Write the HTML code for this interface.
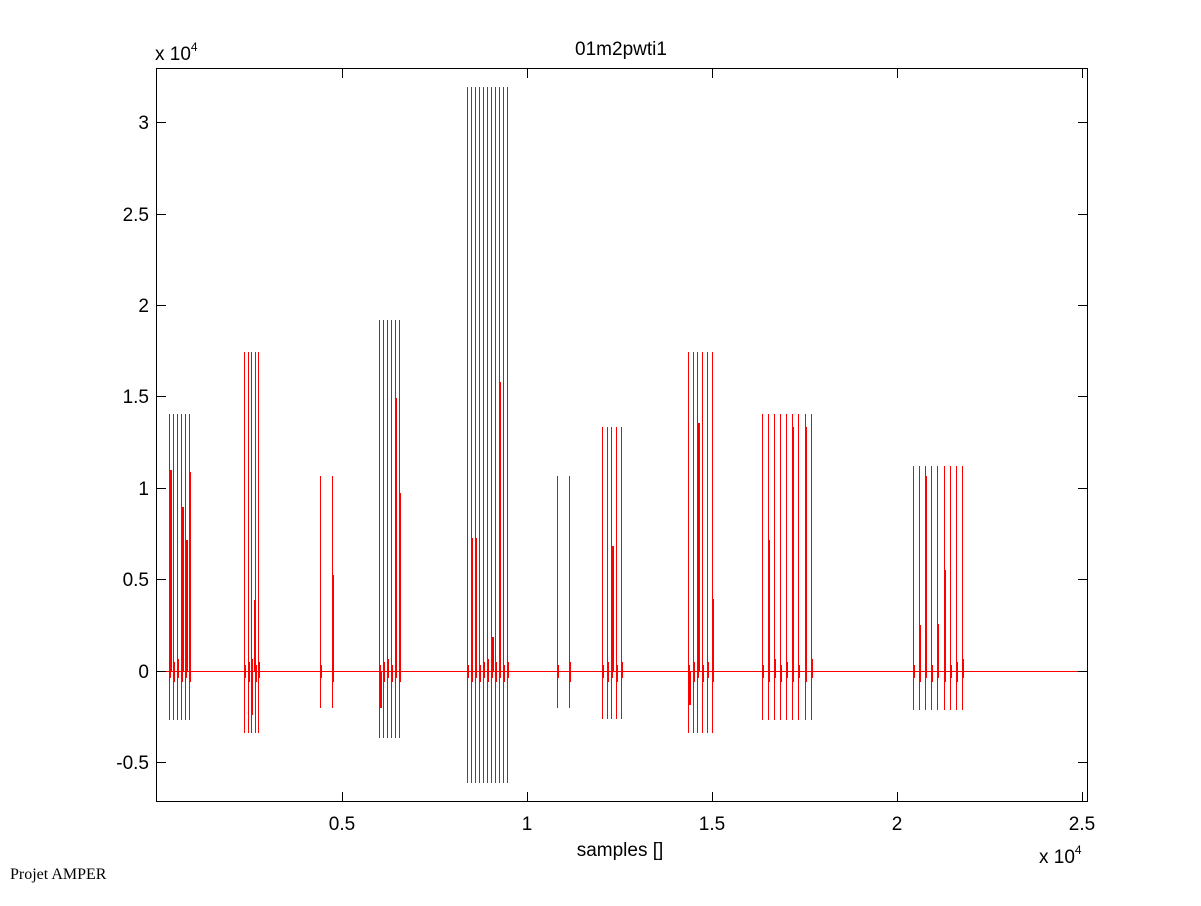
<!DOCTYPE html>
<html><head><meta charset="utf-8"><style>
body{margin:0;background:#fff}
svg text{font-family:"Liberation Sans",Arial,sans-serif;fill:#000}
</style></head><body>
<svg id="s" width="1201" height="901" xmlns="http://www.w3.org/2000/svg">
<rect width="1201" height="901" fill="#fff"/>
<g id="d" fill="#ff0000"></g>
<rect x="156.5" y="68.5" width="931" height="733" fill="none" stroke="#000" stroke-width="1"/>
<g stroke="#000" stroke-width="1">
<line x1="156.5" y1="122.5" x2="166" y2="122.5"/><line x1="1087.5" y1="122.5" x2="1078" y2="122.5"/>
<line x1="156.5" y1="214.5" x2="166" y2="214.5"/><line x1="1087.5" y1="214.5" x2="1078" y2="214.5"/>
<line x1="156.5" y1="305.5" x2="166" y2="305.5"/><line x1="1087.5" y1="305.5" x2="1078" y2="305.5"/>
<line x1="156.5" y1="396.5" x2="166" y2="396.5"/><line x1="1087.5" y1="396.5" x2="1078" y2="396.5"/>
<line x1="156.5" y1="488.5" x2="166" y2="488.5"/><line x1="1087.5" y1="488.5" x2="1078" y2="488.5"/>
<line x1="156.5" y1="579.5" x2="166" y2="579.5"/><line x1="1087.5" y1="579.5" x2="1078" y2="579.5"/>
<line x1="156.5" y1="671.5" x2="166" y2="671.5"/><line x1="1087.5" y1="671.5" x2="1078" y2="671.5"/>
<line x1="156.5" y1="762.5" x2="166" y2="762.5"/><line x1="1087.5" y1="762.5" x2="1078" y2="762.5"/>
<line x1="342.5" y1="801.5" x2="342.5" y2="792"/><line x1="342.5" y1="68.5" x2="342.5" y2="78"/>
<line x1="527.5" y1="801.5" x2="527.5" y2="792"/><line x1="527.5" y1="68.5" x2="527.5" y2="78"/>
<line x1="712.5" y1="801.5" x2="712.5" y2="792"/><line x1="712.5" y1="68.5" x2="712.5" y2="78"/>
<line x1="897.5" y1="801.5" x2="897.5" y2="792"/><line x1="897.5" y1="68.5" x2="897.5" y2="78"/>
<line x1="1082.5" y1="801.5" x2="1082.5" y2="792"/><line x1="1082.5" y1="68.5" x2="1082.5" y2="78"/>
</g>
<g font-size="19" text-anchor="end">
<text x="149" y="129">3</text><text x="149" y="221">2.5</text><text x="149" y="312">2</text>
<text x="149" y="403">1.5</text><text x="149" y="495">1</text><text x="149" y="586">0.5</text>
<text x="149" y="678">0</text><text x="149" y="769">-0.5</text>
</g>
<g font-size="19" text-anchor="middle">
<text x="342" y="830">0.5</text><text x="527" y="830">1</text><text x="712" y="830">1.5</text>
<text x="897" y="830">2</text><text x="1082" y="830">2.5</text>
<text x="620" y="856">samples []</text>
<text x="621" y="55">01m2pwti1</text>
</g>
<text x="155" y="60" font-size="19">x 10<tspan font-size="12" dy="-9">4</tspan></text>
<text x="1039" y="863" font-size="19">x 10<tspan font-size="12" dy="-9">4</tspan></text>
<text x="10" y="879" font-size="16" style="font-family:'Liberation Serif',serif">Projet AMPER</text>
</svg>
<script>
var g=document.getElementById('d'),NS='http://www.w3.org/2000/svg';
function R(x,y,w,h){var r=document.createElementNS(NS,'rect');
r.setAttribute('x',x);r.setAttribute('y',y);r.setAttribute('width',w);r.setAttribute('height',h);r.setAttribute('fill','#ff0000');g.appendChild(r);}
function L(x,a,b){R(x,a,1,b-a);}
var B=[
[[169,173,177,181,185,189],414,720,[[170,470],[182,507],[186,540],[189,472]]],
[[244,248,251,255,258],352,733,[[254,600],[251,715]]],
[[320,332],476,708,[[332,575]]],
[[379,383,387,391,395,399],320,738,[[395,398],[399,493],[380,708]]],
[[467,471,475,479,483,487,491,495,499,503,507],87,783,[[471,538],[475,538],[499,382],[492,637]]],
[[557,569],476,708,[]],
[[602,607,611,616,621],427,719,[[612,546]]],
[[688,693,697,702,707,712],352,733,[[698,423],[712,599],[689,705]]],
[[762,768,774,780,786,792,798,805,811],414,720,[[768,540],[792,427],[805,427]]],
[[913,919,925,931,937,944,950,956,962],466,710,[[925,476],[944,570],[937,624],[919,625]]]
];
B.forEach(function(b){b[0].forEach(function(x){L(x,b[1],b[2]);});
b[3].forEach(function(s){var a=Math.min(s[1],671),c=Math.max(s[1],671);R(s[0],a,2,c-a);});
b[0].forEach(function(x,i){L(x+1,665-(i%3)*3,678+(i%2)*4);});});
R(157,671,930,1);
</script>
</body></html>
